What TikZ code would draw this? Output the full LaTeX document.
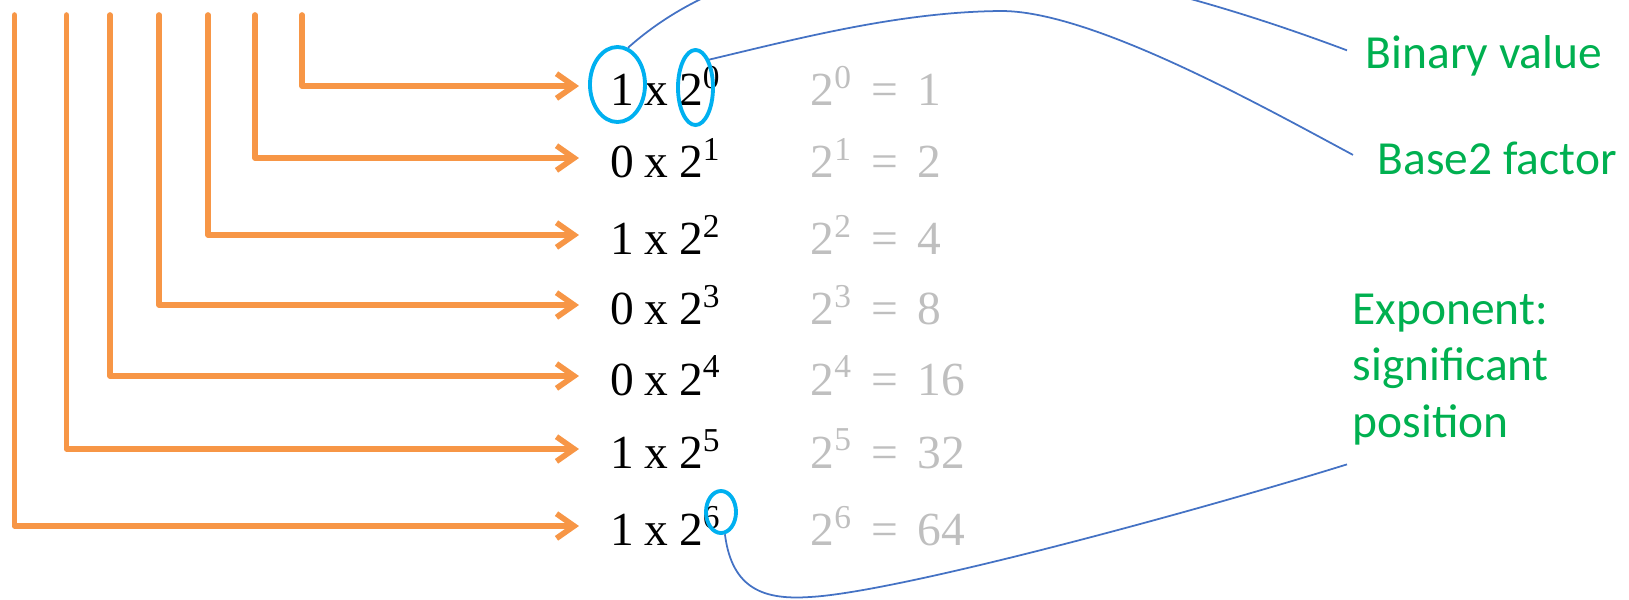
\documentclass[tikz,border=0pt]{standalone}
\usepackage{fontspec}
\setmainfont{Liberation Serif}
\newfontfamily\calibri{Carlito}
\usetikzlibrary{arrows.meta,shapes.geometric}
\definecolor{orng}{HTML}{F79646}
\definecolor{ringblue}{HTML}{00B0F0}
\definecolor{linkblue}{HTML}{4472C4}
\definecolor{lblgreen}{HTML}{00B050}
\definecolor{softgray}{HTML}{BFBFBF}
\newcommand\supx[1]{\raisebox{5pt}{\fontsize{9.5}{9.5}\selectfont #1}}
\begin{document}
\begin{tikzpicture}[x=0.01cm,y=-0.01cm,
  feed/.style={draw=orng, line width=1.6pt, line cap=round, line join=round,
    -{Straight Barb[length=5pt,width=7pt]}, shorten >=0.31cm},
  term/.style={anchor=west, inner sep=0pt, font=\fontsize{13.5}{15}\selectfont},
  power/.style={anchor=west, inner sep=0pt, text=softgray, font=\fontsize{13.5}{15}\selectfont},
  ring/.style={draw=ringblue, line width=1.1pt, ellipse, inner sep=0pt},
  link/.style={draw=linkblue, line width=0.5pt},
  note/.style={anchor=base west, inner sep=0pt, text=lblgreen,
    font=\calibri\fontsize{13.5}{16}\selectfont, align=left}]
\useasboundingbox (0,0) rectangle (1629,599);
\foreach \i/\vx/\ly/\b/\r in {0/302/86/1/1, 1/255/158/0/2, 2/208/235/1/4,
    3/159/305/0/8, 4/110/376/0/16, 5/66.5/449/1/32, 6/14.5/526/1/64}{
  \node[term] (r\i) at (610,\ly) {\b\hspace{0.22em}x\hspace{0.22em}2\supx{\i}};
  \node[power] (p\i) at (810,\ly) {2\supx{\i}\hspace{0.42em}=\hspace{0.42em}\r};
  \coordinate (v\i) at (\vx,15);
  \draw[feed] (v\i) |- (r\i.west);
}
\node[ring, minimum width=0.55cm, minimum height=0.75cm] (c1) at (617.5,84.5) {};
\node[ring, minimum width=0.35cm, minimum height=0.75cm] (c2) at (695.5,87.5) {};
\node[ring, minimum width=0.30cm, minimum height=0.42cm] (c3) at (721,512) {};
\node[note] (bv) at (1365,68) {Binary value};
\node[note] (bf) at (1377,174) {Base2 factor};
\node[note] (ex) at (1352,437) {Exponent:\\significant\\position};
\draw[link] (c1.74) .. controls (760,-70) and (1000,-80) .. ([xshift=-0.18cm,yshift=0.05cm]bv.west);
\draw[link] (c2.north east) .. controls (800,38) and (900,12) .. (1000,11)
  .. controls (1090,10) and (1260,105) .. ([xshift=-0.24cm,yshift=0.03cm]bf.west);
\draw[link] (c3.-80) .. controls (732,590) and (765,600) .. (810,597)
  .. controls (900,592) and (1200,510) .. ([xshift=-0.05cm,yshift=-0.19cm]ex.south west);
\end{tikzpicture}
\end{document}
